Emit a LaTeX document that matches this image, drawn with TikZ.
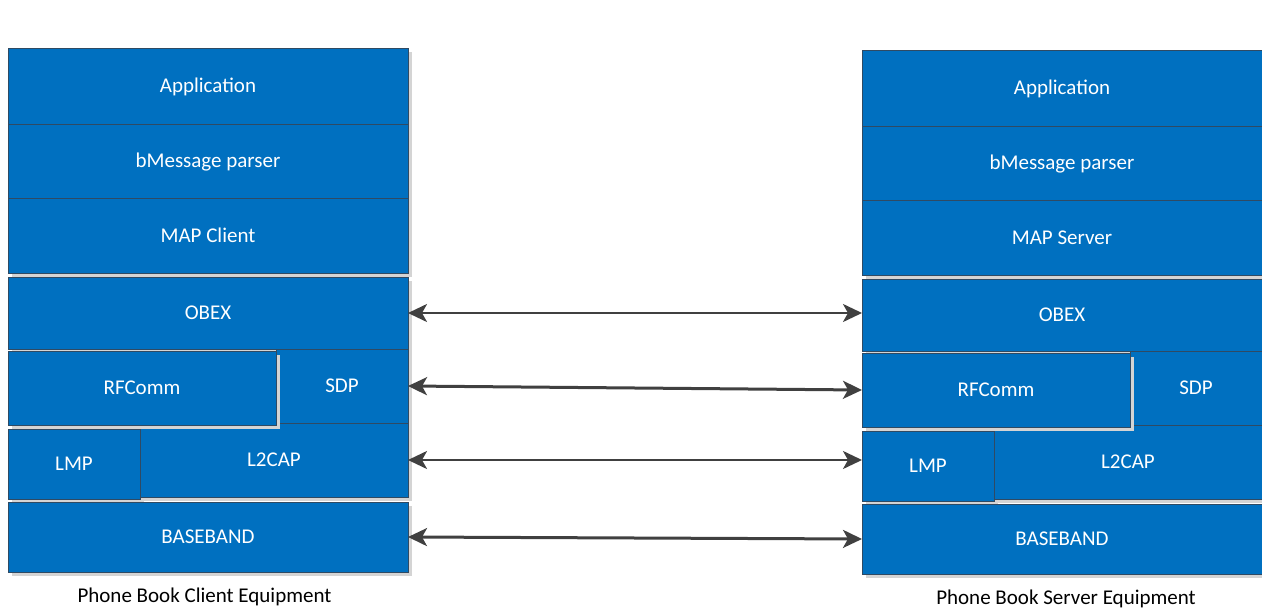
\documentclass[tikz,border=0pt]{standalone}
\usepackage{fontspec}
\setmainfont{Carlito}
\usetikzlibrary{arrows.meta,shadows}

\definecolor{layerblue}{HTML}{0070C0}
\definecolor{layeredge}{HTML}{2F4A63}
\definecolor{shadowgray}{HTML}{D4D4D4}
\definecolor{linkgray}{HTML}{404040}

% one protocol layer: name, x1, y1, x2, y2, label
\newcommand\layerbox[6]{%
  \node[layer, minimum width={(#4)-(#2)}, minimum height={(#5)-(#3)}]
    (#1) at ({((#2)+(#4))/2},{((#3)+(#5))/2}) {#6};}

% a complete Bluetooth MAP stack: name suffix, profile role
\newcommand\protocolstack[2]{%
  \layerbox{app#1}{8}{48}{408}{124}{Application}
  \layerbox{bmsg#1}{8}{124}{408}{198}{bMessage parser}
  \layerbox{map#1}{8}{198}{408}{273}{#2}
  \layerbox{obex#1}{8}{277}{408}{349}{OBEX}
  \layerbox{sdp#1}{276}{349}{408}{423}{SDP}
  \layerbox{lmp#1}{8}{429}{140}{499}{LMP}
  \layerbox{ltcap#1}{140}{423}{408}{497}{L2CAP}
  \layerbox{rfcomm#1}{8}{351}{276}{425}{RFComm}
  \layerbox{base#1}{8}{502}{408}{572}{BASEBAND}
}

\begin{document}
\begin{tikzpicture}[x=1pt,y=-1pt,
  layer/.style={draw=layeredge, line width=0.9pt, fill=layerblue, text=white,
    inner sep=0pt, outer sep=0pt, font=\fontsize{21}{25}\selectfont,
    text height=13.5pt, text depth=0pt,
    drop shadow={shadow xshift=4pt, shadow yshift=-4pt, fill=shadowgray,
      draw=none, opacity=1}},
  link/.style={draw=linkgray, line width=2.4pt,
    {Stealth[length=19pt,width=18pt,inset=5pt]}-{Stealth[length=19pt,width=18pt,inset=5pt]}},
  caption/.style={font=\fontsize{21}{25}\selectfont, text=black, anchor=base,
    inner sep=0pt}]

\useasboundingbox (0,0) rectangle (1262,610);

% client side
\begin{scope}
  \protocolstack{L}{MAP Client}
\end{scope}

% server side
\begin{scope}[shift={(854,2)}]
  \protocolstack{R}{MAP Server}
\end{scope}

% peer-to-peer links between matching layers
\draw[link] (obexL.east) -- (obexL.east -| obexR.west);
\draw[link, line width=3pt] (sdpL.east) -- (rfcommR.west);
\draw[link] (ltcapL.east) -- (ltcapL.east -| lmpR.west);
\draw[link, line width=3pt] (baseL.east) -- (baseR.west);

% equipment captions
\node[caption] (clientcap) at (204.5,602) {Phone Book Client Equipment};
\node[caption] (servercap) at (1066,604) {Phone Book Server Equipment};
\end{tikzpicture}
\end{document}
